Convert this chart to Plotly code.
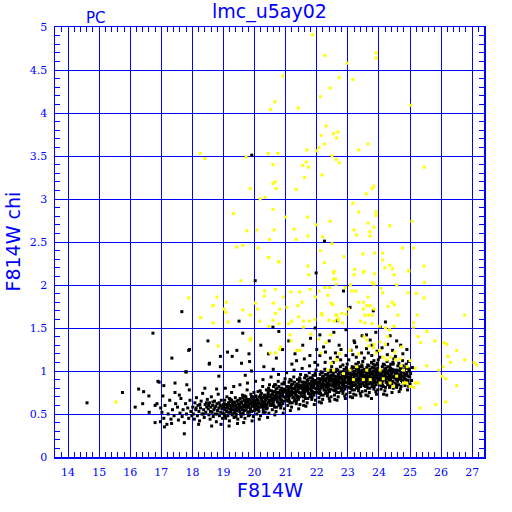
import plotly.graph_objects as go

# ---------------- data ----------------
x_ticks = list(range(14, 28))
y_ticks = [0, 0.5, 1, 1.5, 2, 2.5, 3, 3.5, 4, 4.5, 5]
y_tick_labels = ["0", "0.5", "1", "1.5", "2", "2.5", "3", "3.5", "4", "4.5", "5"]

# black points: (F814W, chi)
black_pts = [
    # sparse bright end / outliers
    (14.61,0.63),(15.75,0.75),(16.27,0.79),(16.43,0.76),(16.16,0.58),(16.4,0.62),(16.6,0.71),(16.8,0.6),
    (16.89,0.88),(16.93,0.87),(17.08,0.83),(16.98,0.57),(16.61,0.52),(16.8,0.4),(16.97,0.41),(17.1,0.35),
    (17.34,1.15),(17.79,0.99),(17.88,1.24),(18.5,1.35),(18.54,1.08),(17.66,1.69),(16.73,1.44),(17.74,0.27),
    (17.44,0.86),(17.82,0.84),(16.86,0.62),(17.91,1.25),(18.9,1.17),(18.55,1.09),(19.13,1.22),(19.43,1.24),
    (19.28,1.17),(19.58,1.09),(19.82,1.2),(19.84,1.11),(18.9,1.05),(18.85,0.94),(17.8,0.99),(19.91,3.51),
    (22.25,2.51),(20.02,2.05),(21.98,2.14),(19.5,1.58),(19.62,1.44),(20.78,1.46),(20.59,1.51),(22.86,1.93),
    (22.66,1.585),(23.07,1.74),(23.82,1.7),(24.21,1.57),(24.04,1.51),(22.94,1.48),(23.2,1.35),(23.46,1.41),
    (24.36,1.41),(24.57,1.35),(20.2,1.3),(20.45,1.2),(20.9,1.25),(21.1,1.35),(21.55,1.3),(21.8,1.38),
    (22.1,1.42),(22.4,1.35),(21.3,1.2),(20.7,1.15),(20.3,1.05),(19.9,1.0),(19.7,0.95),(22.55,1.45),
    (23.6,1.42),(24.7,1.3),(24.9,1.25),(23.9,1.45),(22.0,1.25),(21.95,1.5),
    # 17.0 - 18.0
    (17.02,0.52),(17.08,0.45),(17.12,0.6),(17.18,0.38),(17.22,0.5),(17.27,0.66),(17.31,0.44),(17.36,0.55),
    (17.41,0.48),(17.46,0.62),(17.05,0.71),(17.33,0.39),(17.44,0.75),
    (17.52,0.58),(17.55,0.43),(17.6,0.51),(17.63,0.68),(17.67,0.47),(17.7,0.55),(17.74,0.4),(17.78,0.62),
    (17.81,0.5),(17.85,0.57),(17.88,0.45),(17.92,0.66),(17.95,0.53),(17.98,0.48),(17.58,0.72),(17.9,0.78),
    # 18.0 - 19.0
    (18.01,0.58),(18.03,0.5),(18.06,0.44),(18.08,0.63),(18.11,0.55),(18.13,0.69),(18.16,0.48),(18.18,0.6),
    (18.21,0.53),(18.23,0.42),(18.26,0.57),(18.28,0.65),(18.31,0.5),(18.33,0.74),(18.36,0.55),(18.38,0.46),
    (18.41,0.61),(18.43,0.52),(18.46,0.58),(18.48,0.67),(18.2,0.38),(18.4,0.8),
    (18.51,0.56),(18.53,0.49),(18.55,0.63),(18.57,0.44),(18.59,0.58),(18.61,0.7),(18.63,0.52),(18.65,0.6),
    (18.67,0.47),(18.69,0.55),(18.71,0.65),(18.73,0.5),(18.75,0.59),(18.77,0.41),(18.79,0.62),(18.81,0.54),
    (18.83,0.73),(18.85,0.57),(18.87,0.48),(18.89,0.6),(18.91,0.52),(18.93,0.66),(18.95,0.56),(18.97,0.45),
    (18.99,0.61),(18.62,0.36),(18.78,0.79),(18.92,0.38),
    (18.12,0.57),(18.24,0.61),(18.35,0.5),(18.45,0.63),(18.52,0.6),(18.58,0.53),(18.66,0.64),(18.72,0.57),
    (18.8,0.5),(18.86,0.63),(18.94,0.59),(18.98,0.51),
    # 19.0 - 20.0
    (19.01,0.58),(19.02,0.5),(19.04,0.66),(19.05,0.55),(19.07,0.45),(19.08,0.61),(19.1,0.53),(19.11,0.7),
    (19.13,0.58),(19.14,0.48),(19.16,0.63),(19.17,0.56),(19.19,0.42),(19.2,0.6),(19.22,0.67),(19.23,0.52),
    (19.25,0.57),(19.26,0.75),(19.28,0.49),(19.29,0.62),(19.31,0.55),(19.32,0.64),(19.34,0.46),(19.35,0.59),
    (19.37,0.53),(19.38,0.69),(19.4,0.6),(19.41,0.5),(19.43,0.65),(19.44,0.57),(19.46,0.44),(19.47,0.62),
    (19.49,0.55),(19.06,0.8),(19.18,0.36),(19.33,0.82),(19.45,0.39),(19.27,0.58),(19.12,0.6),(19.39,0.56),
    (19.03,0.62),(19.09,0.57),(19.15,0.52),(19.21,0.64),(19.24,0.55),(19.3,0.6),(19.36,0.63),(19.42,0.54),
    (19.48,0.66),(19.05,0.48),(19.19,0.68),(19.33,0.51),(19.47,0.58),(19.26,0.66),(19.4,0.47),
    (19.51,0.61),(19.52,0.53),(19.54,0.68),(19.55,0.57),(19.57,0.47),(19.58,0.63),(19.6,0.55),(19.61,0.72),
    (19.63,0.6),(19.64,0.5),(19.66,0.66),(19.67,0.58),(19.69,0.45),(19.7,0.63),(19.72,0.7),(19.73,0.55),
    (19.75,0.6),(19.76,0.78),(19.78,0.52),(19.79,0.65),(19.81,0.58),(19.82,0.67),(19.84,0.49),(19.85,0.62),
    (19.87,0.56),(19.88,0.73),(19.9,0.63),(19.91,0.53),(19.93,0.68),(19.94,0.6),(19.96,0.47),(19.97,0.65),
    (19.99,0.58),(19.53,0.84),(19.65,0.4),(19.77,0.86),(19.92,0.42),(19.59,0.64),(19.71,0.59),(19.83,0.61),
    (19.95,0.7),(19.62,0.51),(19.74,0.64),(19.86,0.57),(19.98,0.75),
    (19.52,0.6),(19.56,0.64),(19.6,0.58),(19.63,0.69),(19.67,0.54),(19.7,0.6),(19.74,0.67),(19.78,0.58),
    (19.81,0.63),(19.85,0.53),(19.89,0.66),(19.93,0.59),(19.97,0.62),(19.55,0.5),(19.68,0.71),(19.8,0.48),
    (19.9,0.7),(19.99,0.54),
    # 20.0 - 21.0
    (20.01,0.64),(20.02,0.56),(20.04,0.71),(20.05,0.6),(20.07,0.5),(20.08,0.67),(20.1,0.58),(20.11,0.76),
    (20.13,0.63),(20.14,0.53),(20.16,0.7),(20.17,0.62),(20.19,0.48),(20.2,0.67),(20.22,0.74),(20.23,0.58),
    (20.25,0.64),(20.26,0.82),(20.28,0.55),(20.29,0.69),(20.31,0.62),(20.32,0.72),(20.34,0.52),(20.35,0.66),
    (20.37,0.6),(20.38,0.78),(20.4,0.68),(20.41,0.57),(20.43,0.73),(20.44,0.64),(20.46,0.51),(20.47,0.7),
    (20.49,0.63),(20.03,0.88),(20.15,0.44),(20.27,0.9),(20.42,0.46),(20.09,0.66),(20.21,0.61),(20.33,0.65),
    (20.45,0.8),(20.12,0.55),(20.24,0.69),(20.36,0.59),(20.48,0.84),(20.06,0.62),(20.3,0.58),(20.39,0.71),
    (20.02,0.66),(20.05,0.7),(20.09,0.6),(20.12,0.64),(20.16,0.58),(20.19,0.72),(20.23,0.66),(20.26,0.6),
    (20.3,0.7),(20.33,0.63),(20.37,0.68),(20.4,0.61),(20.44,0.75),(20.47,0.66),(20.5,0.6),(20.07,0.55),
    (20.18,0.77),(20.28,0.52),(20.38,0.56),(20.46,0.78),
    (20.51,0.7),(20.52,0.61),(20.54,0.77),(20.55,0.65),(20.57,0.55),(20.58,0.73),(20.6,0.63),(20.61,0.82),
    (20.63,0.69),(20.64,0.58),(20.66,0.76),(20.67,0.68),(20.69,0.53),(20.7,0.73),(20.72,0.8),(20.73,0.64),
    (20.75,0.7),(20.76,0.88),(20.78,0.6),(20.79,0.75),(20.81,0.68),(20.82,0.78),(20.84,0.57),(20.85,0.72),
    (20.87,0.66),(20.88,0.85),(20.9,0.74),(20.91,0.62),(20.93,0.79),(20.94,0.7),(20.96,0.56),(20.97,0.76),
    (20.99,0.69),(20.53,0.93),(20.65,0.49),(20.77,0.96),(20.92,0.51),(20.59,0.72),(20.71,0.67),(20.83,0.71),
    (20.95,0.87),(20.62,0.6),(20.74,0.75),(20.86,0.64),(20.98,0.91),(20.56,0.67),(20.68,0.84),(20.8,0.62),
    (20.89,0.77),(20.6,1.02),
    (20.52,0.72),(20.55,0.68),(20.59,0.76),(20.62,0.66),(20.66,0.71),(20.69,0.79),(20.73,0.7),(20.76,0.64),
    (20.8,0.74),(20.83,0.67),(20.87,0.8),(20.9,0.71),(20.94,0.65),(20.97,0.78),(20.57,0.6),(20.64,0.84),
    (20.71,0.58),(20.78,0.82),(20.85,0.6),(20.96,0.85),
    # 21.0 - 22.0
    (21.01,0.75),(21.02,0.66),(21.04,0.82),(21.05,0.7),(21.07,0.6),(21.08,0.78),(21.1,0.68),(21.11,0.87),
    (21.13,0.74),(21.14,0.63),(21.16,0.81),(21.17,0.73),(21.19,0.58),(21.2,0.78),(21.22,0.85),(21.23,0.69),
    (21.25,0.75),(21.26,0.93),(21.28,0.65),(21.29,0.8),(21.31,0.73),(21.32,0.83),(21.34,0.62),(21.35,0.77),
    (21.37,0.71),(21.38,0.9),(21.4,0.79),(21.41,0.67),(21.43,0.84),(21.44,0.75),(21.46,0.61),(21.47,0.81),
    (21.49,0.74),(21.03,0.98),(21.15,0.54),(21.27,1.01),(21.42,0.56),(21.09,0.77),(21.21,0.72),(21.33,0.76),
    (21.45,0.92),(21.12,0.65),(21.24,0.8),(21.36,0.69),(21.48,0.96),(21.06,0.72),(21.18,0.89),(21.3,0.67),
    (21.39,0.82),(21.2,1.08),(21.35,1.12),(21.44,0.88),
    (21.02,0.78),(21.05,0.74),(21.09,0.82),(21.12,0.71),(21.16,0.76),(21.19,0.84),(21.23,0.75),(21.26,0.69),
    (21.3,0.79),(21.33,0.72),(21.37,0.85),(21.4,0.76),(21.44,0.7),(21.47,0.83),(21.07,0.65),(21.14,0.9),
    (21.21,0.63),(21.28,0.87),(21.35,0.65),(21.46,0.9),(21.1,0.79),(21.41,0.8),
    (21.51,0.8),(21.52,0.71),(21.54,0.87),(21.55,0.75),(21.57,0.65),(21.58,0.83),(21.6,0.73),(21.61,0.92),
    (21.63,0.79),(21.64,0.68),(21.66,0.86),(21.67,0.78),(21.69,0.63),(21.7,0.83),(21.72,0.9),(21.73,0.74),
    (21.75,0.8),(21.76,0.98),(21.78,0.7),(21.79,0.85),(21.81,0.78),(21.82,0.88),(21.84,0.67),(21.85,0.82),
    (21.87,0.76),(21.88,0.95),(21.9,0.84),(21.91,0.72),(21.93,0.89),(21.94,0.8),(21.96,0.66),(21.97,0.86),
    (21.99,0.79),(21.53,1.03),(21.65,0.59),(21.77,1.06),(21.92,0.61),(21.59,0.82),(21.71,0.77),(21.83,0.81),
    (21.95,0.97),(21.62,0.7),(21.74,0.85),(21.86,0.74),(21.98,1.01),(21.56,0.77),(21.68,0.94),(21.8,0.72),
    (21.89,0.87),(21.6,1.14),(21.78,1.18),(21.94,1.1),(21.7,0.88),(21.85,0.92),(21.58,0.6),
    (21.52,0.83),(21.55,0.79),(21.59,0.87),(21.62,0.76),(21.66,0.81),(21.69,0.89),(21.73,0.8),(21.76,0.74),
    (21.8,0.84),(21.83,0.77),(21.87,0.9),(21.9,0.81),(21.94,0.75),(21.97,0.88),(21.57,0.7),(21.64,0.95),
    (21.71,0.68),(21.78,0.92),(21.85,0.7),(21.96,0.95),(21.6,0.84),(21.91,0.85),
    # 22.0 - 23.0
    (22.01,0.84),(22.02,0.75),(22.04,0.91),(22.05,0.79),(22.07,0.69),(22.08,0.87),(22.1,0.77),(22.11,0.96),
    (22.13,0.83),(22.14,0.72),(22.16,0.9),(22.17,0.82),(22.19,0.67),(22.2,0.87),(22.22,0.94),(22.23,0.78),
    (22.25,0.84),(22.26,1.02),(22.28,0.74),(22.29,0.89),(22.31,0.82),(22.32,0.92),(22.34,0.71),(22.35,0.86),
    (22.37,0.8),(22.38,0.99),(22.4,0.88),(22.41,0.76),(22.43,0.93),(22.44,0.84),(22.46,0.7),(22.47,0.9),
    (22.49,0.83),(22.03,1.07),(22.15,0.63),(22.27,1.1),(22.42,0.65),(22.09,0.86),(22.21,0.81),(22.33,0.85),
    (22.45,1.01),(22.12,0.74),(22.24,0.89),(22.36,0.78),(22.48,1.05),(22.06,0.81),(22.18,0.98),(22.3,0.76),
    (22.39,0.91),(22.1,1.18),(22.28,1.22),(22.44,1.15),(22.2,0.92),(22.35,0.96),(22.08,0.64),(22.22,1.28),
    (22.4,0.68),(22.46,0.95),
    (22.02,0.87),(22.05,0.83),(22.09,0.91),(22.12,0.8),(22.16,0.85),(22.19,0.93),(22.23,0.84),(22.26,0.78),
    (22.3,0.88),(22.33,0.81),(22.37,0.94),(22.4,0.85),(22.44,0.79),(22.47,0.92),(22.07,0.74),(22.14,0.99),
    (22.21,0.72),(22.28,0.96),(22.35,0.74),(22.46,0.99),(22.1,0.88),(22.41,0.89),(22.25,0.9),(22.38,0.83),
    (22.51,0.87),(22.52,0.78),(22.54,0.94),(22.55,0.82),(22.57,0.72),(22.58,0.9),(22.6,0.8),(22.61,0.99),
    (22.63,0.86),(22.64,0.75),(22.66,0.93),(22.67,0.85),(22.69,0.7),(22.7,0.9),(22.72,0.97),(22.73,0.81),
    (22.75,0.87),(22.76,1.05),(22.78,0.77),(22.79,0.92),(22.81,0.85),(22.82,0.95),(22.84,0.74),(22.85,0.89),
    (22.87,0.83),(22.88,1.02),(22.9,0.91),(22.91,0.79),(22.93,0.96),(22.94,0.87),(22.96,0.73),(22.97,0.93),
    (22.99,0.86),(22.53,1.1),(22.65,0.66),(22.77,1.13),(22.92,0.68),(22.59,0.89),(22.71,0.84),(22.83,0.88),
    (22.95,1.04),(22.62,0.77),(22.74,0.92),(22.86,0.81),(22.98,1.08),(22.56,0.84),(22.68,1.01),(22.8,0.79),
    (22.89,0.94),(22.6,1.21),(22.78,1.25),(22.94,1.18),(22.7,0.95),(22.85,0.99),(22.58,0.67),(22.72,1.3),
    (22.9,0.71),(22.96,0.98),(22.66,1.16),(22.84,1.07),
    (22.52,0.9),(22.55,0.86),(22.59,0.94),(22.62,0.83),(22.66,0.88),(22.69,0.96),(22.73,0.87),(22.76,0.81),
    (22.8,0.91),(22.83,0.84),(22.87,0.97),(22.9,0.88),(22.94,0.82),(22.97,0.95),(22.57,0.77),(22.64,1.02),
    (22.71,0.75),(22.78,0.99),(22.85,0.77),(22.96,1.02),(22.6,0.91),(22.91,0.92),(22.75,0.93),(22.88,0.86),
    (22.53,0.97),(22.68,0.8),
    # 23.0 - 24.0
    (23.01,0.9),(23.02,0.81),(23.04,0.97),(23.05,0.85),(23.07,0.75),(23.08,0.93),(23.1,0.83),(23.11,1.02),
    (23.13,0.89),(23.14,0.78),(23.16,0.96),(23.17,0.88),(23.19,0.73),(23.2,0.93),(23.22,1.0),(23.23,0.84),
    (23.25,0.9),(23.26,1.08),(23.28,0.8),(23.29,0.95),(23.31,0.88),(23.32,0.98),(23.34,0.77),(23.35,0.92),
    (23.37,0.86),(23.38,1.05),(23.4,0.94),(23.41,0.82),(23.43,0.99),(23.44,0.9),(23.46,0.76),(23.47,0.96),
    (23.49,0.89),(23.03,1.13),(23.15,0.69),(23.27,1.16),(23.42,0.71),(23.09,0.92),(23.21,0.87),(23.33,0.91),
    (23.45,1.07),(23.12,0.8),(23.24,0.95),(23.36,0.84),(23.48,1.11),(23.06,0.87),(23.18,1.04),(23.3,0.82),
    (23.39,0.97),(23.1,1.24),(23.28,1.28),(23.44,1.21),(23.2,0.98),(23.35,1.02),(23.08,0.7),(23.22,1.33),
    (23.4,0.74),(23.46,1.01),(23.16,1.19),(23.34,1.1),(23.26,0.72),(23.48,0.86),
    (23.02,0.93),(23.05,0.89),(23.09,0.97),(23.12,0.86),(23.16,0.91),(23.19,0.99),(23.23,0.9),(23.26,0.84),
    (23.3,0.94),(23.33,0.87),(23.37,1.0),(23.4,0.91),(23.44,0.85),(23.47,0.98),(23.07,0.8),(23.14,1.05),
    (23.21,0.78),(23.28,1.02),(23.35,0.8),(23.46,1.05),(23.1,0.94),(23.41,0.95),(23.25,0.96),(23.38,0.89),
    (23.03,1.0),(23.18,0.83),(23.31,1.06),(23.49,0.93),
    (23.51,0.92),(23.52,0.83),(23.54,0.99),(23.55,0.87),(23.57,0.77),(23.58,0.95),(23.6,0.85),(23.61,1.04),
    (23.63,0.91),(23.64,0.8),(23.66,0.98),(23.67,0.9),(23.69,0.75),(23.7,0.95),(23.72,1.02),(23.73,0.86),
    (23.75,0.92),(23.76,1.1),(23.78,0.82),(23.79,0.97),(23.81,0.9),(23.82,1.0),(23.84,0.79),(23.85,0.94),
    (23.87,0.88),(23.88,1.07),(23.9,0.96),(23.91,0.84),(23.93,1.01),(23.94,0.92),(23.96,0.78),(23.97,0.98),
    (23.99,0.91),(23.53,1.15),(23.65,0.71),(23.77,1.18),(23.92,0.73),(23.59,0.94),(23.71,0.89),(23.83,0.93),
    (23.95,1.09),(23.62,0.82),(23.74,0.97),(23.86,0.86),(23.98,1.13),(23.56,0.89),(23.68,1.06),(23.8,0.84),
    (23.89,0.99),(23.6,1.26),(23.78,1.3),(23.94,1.23),(23.7,1.0),(23.85,1.04),(23.58,0.72),(23.72,1.36),
    (23.9,0.76),(23.96,1.03),(23.66,1.21),(23.84,1.12),(23.76,0.68),(23.98,0.88),
    (23.52,0.95),(23.55,0.91),(23.59,0.99),(23.62,0.88),(23.66,0.93),(23.69,1.01),(23.73,0.92),(23.76,0.86),
    (23.8,0.96),(23.83,0.89),(23.87,1.02),(23.9,0.93),(23.94,0.87),(23.97,1.0),(23.57,0.82),(23.64,1.07),
    (23.71,0.8),(23.78,1.04),(23.85,0.82),(23.96,1.07),(23.6,0.96),(23.91,0.97),(23.75,0.98),(23.88,0.91),
    (23.53,1.02),(23.68,0.85),(23.81,1.08),(23.99,0.95),
    # 24.0 - 25.1
    (24.01,0.93),(24.02,0.84),(24.04,1.0),(24.05,0.88),(24.07,0.79),(24.08,0.96),(24.1,0.86),(24.11,1.05),
    (24.13,0.92),(24.14,0.82),(24.16,0.99),(24.17,0.91),(24.19,0.77),(24.2,0.96),(24.22,1.03),(24.23,0.87),
    (24.25,0.93),(24.26,1.11),(24.28,0.84),(24.29,0.98),(24.31,0.91),(24.32,1.01),(24.34,0.81),(24.35,0.95),
    (24.37,0.89),(24.38,1.08),(24.4,0.97),(24.41,0.85),(24.43,1.02),(24.44,0.93),(24.46,0.8),(24.47,0.99),
    (24.49,0.92),(24.03,1.16),(24.15,0.73),(24.27,1.19),(24.42,0.75),(24.09,0.95),(24.21,0.9),(24.33,0.94),
    (24.45,1.1),(24.12,0.83),(24.24,0.98),(24.36,0.87),(24.48,1.14),(24.06,0.9),(24.18,1.07),(24.3,0.85),
    (24.39,1.0),(24.1,1.27),(24.28,1.31),(24.44,1.24),(24.2,1.01),(24.35,1.05),(24.25,0.72),
    (24.02,0.96),(24.05,0.92),(24.09,1.0),(24.12,0.89),(24.16,0.94),(24.19,1.02),(24.23,0.93),(24.26,0.87),
    (24.3,0.97),(24.33,0.9),(24.37,1.03),(24.4,0.94),(24.44,0.88),(24.47,1.01),(24.07,0.83),(24.14,1.08),
    (24.21,0.81),(24.28,1.05),(24.35,0.83),(24.46,1.08),(24.1,0.97),(24.41,0.98),(24.25,0.99),(24.38,0.92),
    (24.51,0.94),(24.52,0.86),(24.54,1.01),(24.55,0.9),(24.57,0.81),(24.58,0.97),(24.6,0.88),(24.61,1.06),
    (24.63,0.93),(24.64,0.84),(24.66,1.0),(24.67,0.92),(24.69,0.79),(24.7,0.97),(24.72,1.04),(24.73,0.89),
    (24.75,0.94),(24.76,1.12),(24.78,0.86),(24.79,0.99),(24.81,0.92),(24.82,1.02),(24.84,0.83),(24.85,0.96),
    (24.87,0.9),(24.88,1.08),(24.9,0.98),(24.91,0.87),(24.93,1.03),(24.94,0.94),(24.96,0.82),(24.97,1.0),
    (24.99,0.93),(25.02,0.97),(25.05,0.89),(25.08,1.04),(24.53,1.17),(24.65,0.76),(24.77,1.2),(24.92,0.78),
    (24.59,0.96),(24.71,0.91),(24.83,0.95),(24.95,1.11),(25.0,0.85),
    (24.52,0.97),(24.55,0.93),(24.59,1.01),(24.62,0.9),(24.66,0.95),(24.69,1.03),(24.73,0.94),(24.76,0.88),
    (24.8,0.98),(24.83,0.91),(24.87,1.04),(24.9,0.95),(24.94,0.89),(24.97,1.02),(24.57,0.84),(24.64,1.09),
    (24.71,0.82),(24.78,1.06),
]

# yellow points: (F814W, chi)
yellow_pts = [
    (21.87,4.91),(22.26,4.67),(20.91,4.43),(22.72,4.41),(22.43,4.29),(22.11,4.19),(20.65,4.13),(20.52,4.04),
    (21.41,4.06),(22.3,3.85),(22.14,3.74),(22.54,3.76),(22.68,3.78),(22.64,3.71),(22.25,3.64),(22.07,3.6),
    (21.68,3.57),(22.0,3.56),(18.25,3.53),(18.4,3.47),(19.73,3.49),(20.44,3.53),(20.75,3.53),(22.49,3.5),
    (22.63,3.46),(22.72,3.42),(20.59,3.4),(21.66,3.43),(21.55,3.39),(21.74,3.37),(22.17,3.28),(21.61,3.25),
    (20.66,3.2),(20.59,3.18),(20.69,3.12),(19.86,3.12),(21.34,3.11),(20.34,3.02),(20.18,3.0),(20.59,2.88),
    (19.32,2.83),(20.99,2.79),(21.7,2.79),(22.43,2.74),(21.98,2.7),(19.75,2.63),(20.07,2.64),(20.63,2.64),
    (21.27,2.65),(20.48,2.53),(21.34,2.53),(21.72,2.57),(22.19,2.56),(22.49,2.48),(19.43,2.44),(19.62,2.46),
    (20.11,2.43),(22.11,2.4),(20.46,2.32),(20.78,2.27),(22.25,2.26),(21.72,2.22),(22.56,2.16),
    (23.91,4.7),(23.91,4.64),(22.97,4.58),(23.16,4.39),(25.02,4.09),(23.65,3.64),(23.35,3.57),(25.46,3.37),
    (23.84,3.15),(23.78,3.12),(23.59,3.06),(23.16,2.95),(23.35,2.85),(23.91,2.85),(23.91,2.81),(23.65,2.72),
    (25.06,2.74),(24.35,2.69),(23.2,2.64),(23.84,2.67),(23.71,2.62),(23.28,2.58),(23.71,2.57),(24.76,2.43),
    (25.11,2.43),(22.88,2.33),(23.48,2.36),(23.86,2.37),(24.12,2.37),(24.12,2.29),(24.35,2.23),(24.44,2.19),
    (24.19,2.2),(25.45,2.22),(23.22,2.18),(24.96,2.16),(23.52,2.16),
    (19.56,2.05),(18.79,1.86),(19.09,1.8),(18.66,1.76),(19.07,1.68),(19.15,1.57),(20.33,1.93),(20.31,1.87),
    (20.67,1.95),(20.93,1.86),(20.61,1.79),(20.8,1.72),(20.67,1.67),(20.59,1.59),(20.09,1.72),(19.86,1.65),
    (19.62,1.71),(20.17,1.58),(20.78,1.55),(21.04,1.74),(21.17,1.92),(21.45,1.92),(21.52,1.8),(21.39,1.76),
    (21.74,2.12),(21.79,1.95),(22.07,1.93),(21.96,1.86),(22.26,1.97),(22.41,1.97),(22.6,2.07),(22.54,2.14),
    (22.36,1.88),(22.15,1.67),(22.17,1.65),(22.39,1.59),(22.64,1.65),(22.69,1.59),(21.42,1.63),(21.57,1.58),
    (21.76,1.58),(21.94,1.6),(21.19,1.58),(21.1,1.55),(21.57,1.51),(20.46,1.52),(19.88,1.38),(18.83,1.29),
    (20.84,1.28),(20.8,1.25),(21.14,1.42),(21.17,1.35),(21.46,1.24),(21.81,1.43),(22.45,1.42),(22.3,1.33),
    (22.06,1.37),(20.5,1.21),(20.67,1.21),(21.36,1.24),(22.13,1.21),(22.36,1.01),(22.64,1.13),(22.47,1.09),
    (19.86,1.36),(17.88,1.85),(18.67,1.76),(18.27,1.62),(18.67,1.56),(15.54,0.64),(20.45,2.32),(20.78,2.27),
    (19.02,1.72),(20.03,1.79),
    (23.2,2.12),(23.5,2.15),(23.86,2.13),(24.49,2.12),(24.96,2.17),(25.47,2.03),(23.8,2.03),(23.84,2.01),
    (24.57,2.0),(22.54,2.07),(22.62,2.01),(22.92,1.97),(23.09,2.0),(23.13,1.93),(23.26,1.93),(24.06,1.96),
    (24.12,1.91),(24.94,1.91),(25.2,1.9),(25.45,1.85),(23.65,1.86),(23.5,1.8),(23.35,1.8),(23.61,1.76),
    (23.71,1.76),(23.84,1.72),(23.5,1.72),(23.55,1.65),(23.67,1.65),(23.78,1.65),(23.41,1.58),(23.55,1.56),
    (23.78,1.55),(23.02,1.72),(22.81,1.67),(22.94,1.66),(22.62,1.65),(22.69,1.61),(22.56,1.58),(22.84,1.56),
    (22.47,1.79),(22.52,1.77),(24.29,1.75),(24.42,1.8),(24.5,1.77),(24.61,1.65),(25.23,1.65),(26.76,1.65),
    (24.49,1.52),(25.11,1.56),(25.11,1.51),(24.34,1.48),(24.21,1.5),(24.02,1.52),(24.29,1.4),(25.26,1.4),
    (25.54,1.46),(25.8,1.35),(26.09,1.33),(26.18,1.31),(25.34,1.33),(26.5,1.24),(26.22,1.17),(26.3,1.1),
    (26.76,1.13),(27.06,1.1),(27.14,1.07),(25.54,1.06),(26.5,0.83),(26.15,0.91),(26.03,0.94),(26.07,1.05),
    (25.92,1.01),(26.15,0.64),(25.32,0.57),(25.26,0.86),(25.11,0.81),(25.83,0.61),(25.17,1.03),
    (22.73,1.2),(23.07,1.24),(23.35,1.2),(23.52,1.4),(23.61,1.36),(23.67,1.29),(23.82,1.27),(23.91,1.21),
    (24.02,1.24),(24.14,1.16),(24.25,1.13),(24.38,1.16),(24.53,1.13),(24.68,1.14),(24.72,1.06),(24.79,1.01),
    (24.91,1.05),(25.0,1.12),(24.89,0.86),(24.57,0.94),(24.36,0.86),(24.14,0.91),(24.04,1.01),(23.61,1.01),
    (23.29,1.05),(23.07,1.01),(22.86,0.97),(22.64,1.13),(22.54,1.01),(23.18,0.9),(23.5,0.9),(23.72,0.9),
    (24.04,0.86),(24.46,0.82),(24.79,0.86),(25.0,0.82),(25.17,0.86),(24.72,1.28),(24.51,1.22),(24.21,1.31),
    (24.04,1.34),(23.84,1.31),
]

black_x = [p[0] for p in black_pts]
black_y = [p[1] for p in black_pts]
yellow_x = [p[0] for p in yellow_pts]
yellow_y = [p[1] for p in yellow_pts]

# ---------------- styling ----------------
BLUE = "#0000ff"
W, H = 512, 512
L, R, T, B = 54.5, 484, 27, 457   # plot area in pixels


def px_to_paper(px, py):
    return (px - L) / (R - L), (B - py) / (B - T)


fig = go.Figure()
fig.add_trace(go.Scatter(x=black_x, y=black_y, mode="markers",
                         marker=dict(symbol="square", size=3, color="black", line=dict(width=0)),
                         showlegend=False, hoverinfo="skip"))
fig.add_trace(go.Scatter(x=yellow_x, y=yellow_y, mode="markers",
                         marker=dict(symbol="square", size=3, color="#ffff00", line=dict(width=0)),
                         showlegend=False, hoverinfo="skip"))

tickfont = dict(family="DejaVu Serif", size=11, color=BLUE)
fig.update_xaxes(range=[13.58, 27.38], tickmode="array", tickvals=x_ticks,
                 ticktext=[str(v) for v in x_ticks], tickfont=tickfont,
                 ticks="inside", ticklen=8, tickcolor=BLUE, tickwidth=1,
                 minor=dict(dtick=0.2, tick0=14, ticks="inside", ticklen=5, tickcolor=BLUE, tickwidth=1, showgrid=False),
                 showgrid=True, gridcolor=BLUE, gridwidth=1,
                 showline=True, linecolor=BLUE, linewidth=1.5, mirror="allticks",
                 zeroline=False, ticklabelstandoff=4)
fig.update_yaxes(range=[0, 5], tickmode="array", tickvals=y_ticks, ticktext=y_tick_labels,
                 tickfont=tickfont,
                 ticks="inside", ticklen=8, tickcolor=BLUE, tickwidth=1,
                 minor=dict(dtick=0.1, tick0=0, ticks="inside", ticklen=5, tickcolor=BLUE, tickwidth=1, showgrid=False),
                 showgrid=True, gridcolor=BLUE, gridwidth=1,
                 showline=True, linecolor=BLUE, linewidth=1.5, mirror="allticks",
                 zeroline=False, ticklabelstandoff=4)

annotations = []
for text, px, py, size, angle in [
    ("lmc_u5ay02", 269.5, 12, 19, 0),
    ("PC", 95.5, 17.5, 15, 0),
    ("F814W", 270, 490, 19, 0),
    ("F814W chi", 12, 242, 19, -90),
]:
    ax, ay = px_to_paper(px, py)
    annotations.append(dict(text=text, x=ax, y=ay, xref="paper", yref="paper",
                            xanchor="center", yanchor="middle", showarrow=False,
                            textangle=angle,
                            font=dict(family="DejaVu Sans", size=size, color=BLUE)))

fig.update_layout(width=W, height=H,
                  margin=dict(l=L, r=W - R, t=T, b=H - B, pad=0),
                  paper_bgcolor="white", plot_bgcolor="white",
                  annotations=annotations, showlegend=False)

# remove the default page margin so that the 512x512 figure fills the window exactly
fig.write_html("out.html",
               config={"displayModeBar": False, "staticPlot": True},
               post_script="document.body.style.margin='0';document.body.style.overflow='hidden';")
